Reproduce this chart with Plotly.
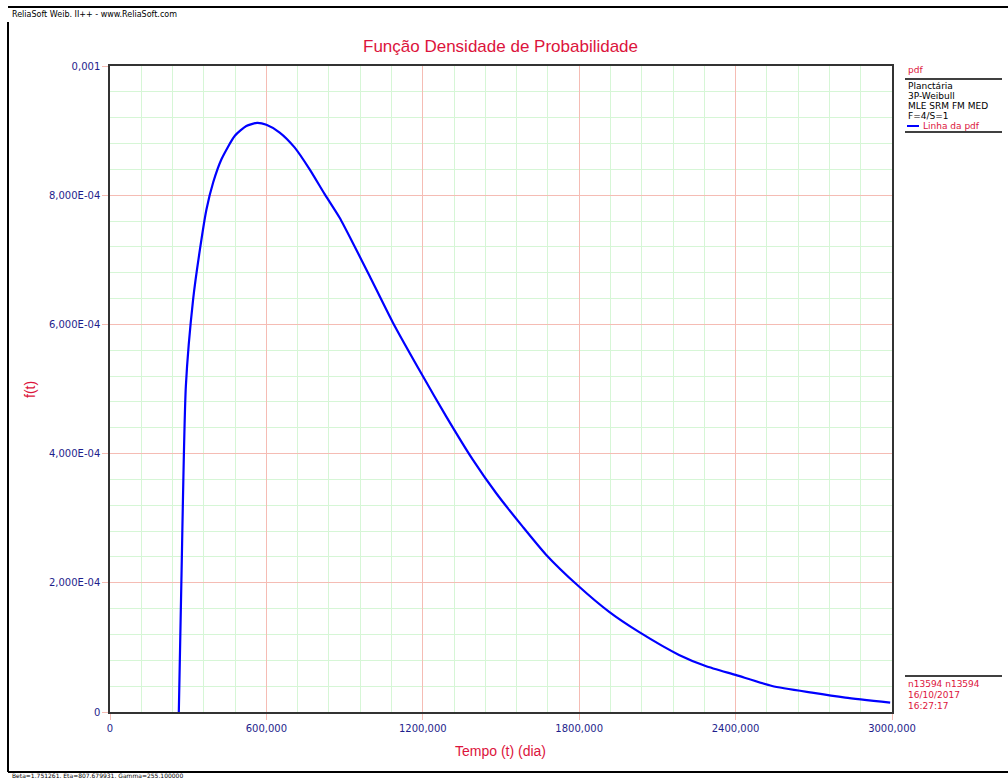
import plotly.graph_objects as go

# Weibull pdf curve (time in days, density)
tempo = [264, 274, 291, 319, 345, 370, 396, 428, 479, 523, 564, 600, 651, 708,
         766, 823, 881, 938, 996, 1085, 1200, 1289, 1391, 1481, 1583, 1672,
         1797, 1915, 2029, 2183, 2285, 2400, 2540, 2693, 2821, 2993]
pdf = [0.0, 2.05e-4, 5.04e-4, 6.39e-4, 7.16e-4, 7.78e-4, 8.20e-4, 8.56e-4,
       8.92e-4, 9.07e-4, 9.12e-4, 9.09e-4, 8.97e-4, 8.74e-4, 8.40e-4, 8.02e-4,
       7.65e-4, 7.21e-4, 6.75e-4, 6.03e-4, 5.20e-4, 4.58e-4, 3.91e-4, 3.39e-4,
       2.87e-4, 2.44e-4, 1.95e-4, 1.55e-4, 1.24e-4, 8.84e-5, 7.13e-5,
       5.74e-5, 4.03e-5, 2.99e-5, 2.22e-5, 1.44e-5]

x_ticks = [0, 600, 1200, 1800, 2400, 3000]
x_tick_labels = ["0", "600,000", "1200,000", "1800,000", "2400,000", "3000,000"]
y_ticks = [0, 2e-4, 4e-4, 6e-4, 8e-4, 1e-3]
y_tick_labels = ["0", "2,000E-04", "4,000E-04", "6,000E-04", "8,000E-04", "0,001"]

legend_lines = ["Planctária", "3P-Weibull", "MLE SRM FM MED", "F=4/S=1"]
stamp_lines = ["n13594 n13594", "16/10/2017", "16:27:17"]

W, H = 1008, 778
L, R, T, B = 110, 892, 66, 712

CRIMSON = "#dc143c"
NAVY = "#1e1e8c"
MAJOR = "#f5bcb4"
MINOR = "#d6f6d6"


def px(x):
    return (x - L) / (R - L)


def py(y):
    return (B - y) / (B - T)


fig = go.Figure()
fig.add_trace(go.Scatter(x=tempo, y=pdf, mode="lines",
                         line=dict(color="#0000ff", width=2.2, shape="spline", smoothing=0.6),
                         showlegend=False, hoverinfo="skip"))

axis_common = dict(showline=True, linecolor="#333333", linewidth=1.5, mirror=True,
                   showgrid=True, gridcolor=MAJOR, gridwidth=1, zeroline=False,
                   ticks="outside", ticklen=6, tickcolor=MAJOR, automargin=False,
                   tickfont=dict(family="DejaVu Sans", size=10, color=NAVY))

fig.update_xaxes(range=[0, 3000], tickvals=x_ticks, ticktext=x_tick_labels,
                 minor=dict(dtick=120, showgrid=True, gridcolor=MINOR, gridwidth=1),
                 **axis_common)
fig.update_yaxes(range=[0, 0.001], tickvals=y_ticks, ticktext=y_tick_labels,
                 minor=dict(dtick=4e-5, showgrid=True, gridcolor=MINOR, gridwidth=1),
                 **axis_common)

annotations = []
shapes = []


def text(x, y, s, color="#000000", size=9, family="DejaVu Sans", xanchor="left",
         angle=0):
    annotations.append(dict(x=px(x), y=py(y), xref="paper", yref="paper", text=s,
                            showarrow=False, xanchor=xanchor, yanchor="middle",
                            textangle=angle,
                            font=dict(family=family, size=size, color=color)))


def hline(x0, x1, y, color="#000000", width=1.5):
    shapes.append(dict(type="line", xref="paper", yref="paper",
                       x0=px(x0), x1=px(x1), y0=py(y), y1=py(y),
                       line=dict(color=color, width=width)))


def vline(x, y0, y1, color="#000000", width=1.5):
    shapes.append(dict(type="line", xref="paper", yref="paper",
                       x0=px(x), x1=px(x), y0=py(y0), y1=py(y1),
                       line=dict(color=color, width=width)))


# outer frame and banner
hline(8, W + 2, 7, width=2)
vline(8, 22, 772, width=2)
hline(8, W + 2, 772, width=2)
text(10, 15, "ReliaSoft Weib. II++ - www.ReliaSoft.com", size=8)
text(10, 775, "Beta=1.751261, Eta=807.679931, Gamma=255.100000", size=6)

# chart and axis titles
text(500, 46, "Função Densidade de Probabilidade", color=CRIMSON, size=17,
     family="Liberation Sans", xanchor="center")
text(500, 751, "Tempo (t) (dia)", color=CRIMSON, size=14,
     family="Liberation Sans", xanchor="center")
text(30, 390, "f(t)", color=CRIMSON, size=14, family="Liberation Sans",
     xanchor="center", angle=-90)

# legend block
text(906, 70, "pdf", color=CRIMSON)
hline(905, 1002, 79)
for i, s in enumerate(legend_lines):
    text(906, 86 + i * 10, s)
hline(907, 919, 126, color="#0000ff", width=2)
text(921, 126, "Linha da pdf", color=CRIMSON)
hline(905, 1002, 132)

# run stamp block
hline(905, 1002, 676)
for i, s in enumerate(stamp_lines):
    text(906, 684 + i * 11, s, color=CRIMSON)

fig.update_layout(width=W, height=H, autosize=False,
                  margin=dict(l=L, r=W - R, t=T, b=H - B),
                  paper_bgcolor="white", plot_bgcolor="white",
                  annotations=annotations, shapes=shapes)

fig.write_html("out.html")
